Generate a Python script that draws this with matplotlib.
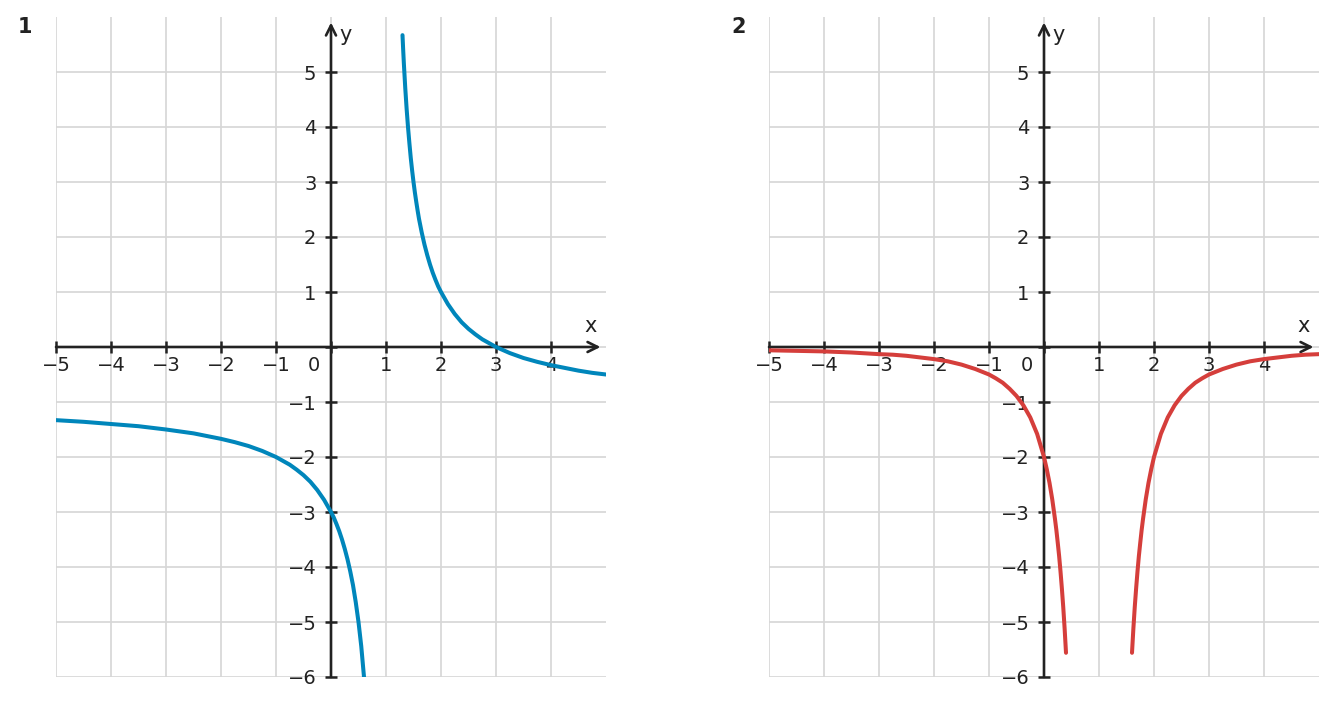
import matplotlib.pyplot as plt

# panel 1: blue curve, two branches
p1_left_x = [-5, -4.5, -4, -3.5, -3, -2.5, -2.25, -2, -1.75, -1.5, -1.25, -1, -0.875, -0.75, -0.625, -0.5, -0.375,
             -0.25, -0.125, 0, 0.05, 0.1, 0.15, 0.2, 0.25, 0.3, 0.35, 0.4, 0.45, 0.5, 0.55, 0.6]
p1_left_y = [-1.33, -1.36, -1.4, -1.44, -1.5, -1.57, -1.62, -1.67, -1.73, -1.8, -1.89, -2.0, -2.07, -2.14, -2.23,
             -2.33, -2.45, -2.6, -2.78, -3.0, -3.1, -3.22, -3.35, -3.5, -3.67, -3.86, -4.08, -4.33, -4.64, -5.0,
             -5.44, -6.0]
p1_right_x = [1.3, 1.3125, 1.325, 1.35, 1.375, 1.4, 1.425, 1.45, 1.475, 1.5, 1.525, 1.55, 1.575, 1.6, 1.65, 1.7,
              1.75, 1.8, 1.85, 1.9, 1.95, 2, 2.125, 2.25, 2.375, 2.5, 2.625, 2.75, 2.875, 3, 3.25, 3.5, 3.75, 4,
              4.25, 4.5, 4.75, 5]
p1_right_y = [5.67, 5.4, 5.15, 4.71, 4.33, 4.0, 3.71, 3.44, 3.21, 3.0, 2.81, 2.64, 2.48, 2.33, 2.08, 1.86, 1.67,
              1.5, 1.35, 1.22, 1.1, 1.0, 0.78, 0.6, 0.45, 0.33, 0.23, 0.14, 0.07, 0.0, -0.11, -0.2, -0.27, -0.33,
              -0.38, -0.43, -0.47, -0.5]

# panel 2: red curve, two branches
p2_left_x = [-5, -4.5, -4, -3.5, -3, -2.75, -2.5, -2.25, -2, -1.75, -1.5, -1.25, -1, -0.875, -0.75, -0.625, -0.5,
             -0.375, -0.25, -0.125, 0, 0.05, 0.1, 0.15, 0.2, 0.225, 0.25, 0.275, 0.3, 0.325, 0.35, 0.375, 0.4]
p2_left_y = [-0.06, -0.07, -0.08, -0.1, -0.13, -0.14, -0.16, -0.19, -0.22, -0.26, -0.32, -0.4, -0.5, -0.57, -0.65,
             -0.76, -0.89, -1.06, -1.28, -1.58, -2.0, -2.22, -2.47, -2.77, -3.13, -3.33, -3.56, -3.8, -4.08,
             -4.39, -4.73, -5.12, -5.56]
p2_right_x = [1.6, 1.625, 1.65, 1.675, 1.7, 1.725, 1.75, 1.775, 1.8, 1.85, 1.9, 1.95, 2, 2.125, 2.25, 2.375, 2.5,
              2.625, 2.75, 2.875, 3, 3.25, 3.5, 3.75, 4, 4.25, 4.5, 4.75, 5]
p2_right_y = [-5.56, -5.12, -4.73, -4.39, -4.08, -3.8, -3.56, -3.33, -3.13, -2.77, -2.47, -2.22, -2.0, -1.58,
              -1.28, -1.06, -0.89, -0.76, -0.65, -0.57, -0.5, -0.4, -0.32, -0.26, -0.22, -0.19, -0.16, -0.14, -0.13]

x_ticks = list(range(-5, 5))
y_ticks = list(range(-6, 6))

INK = '#222222'
GRID = '#d6d6d6'


def draw_panel(ax, branches, color, number, fig_x):
    ax.set_xlim(-5, 5)
    ax.set_ylim(-6, 6)
    ax.set_xticks(x_ticks)
    ax.set_yticks(y_ticks)
    ax.set_xticklabels(['\u2212%d' % -t if t < 0 else ('' if t == 0 else str(t)) for t in x_ticks])
    ax.set_yticklabels(['\u2212%d' % -t if t < 0 else ('' if t == 0 else str(t)) for t in y_ticks])
    ax.grid(True, color=GRID, lw=1.2)
    ax.set_axisbelow(True)
    for s in ['top', 'right']:
        ax.spines[s].set_visible(False)
    ax.spines['left'].set_position(('data', 0))
    ax.spines['bottom'].set_position(('data', 0))
    ax.spines['left'].set_color('none')
    ax.spines['bottom'].set_color('none')
    ax.tick_params(direction='inout', length=9, width=1.8, color=INK, labelcolor=INK, labelsize=14)
    ax.tick_params(axis='x', pad=2)
    ax.tick_params(axis='y', pad=6)

    # axes with arrowheads
    ax.annotate('', xy=(4.9, 0), xytext=(-5, 0),
                arrowprops=dict(arrowstyle='->', lw=1.9, color=INK, mutation_scale=18, shrinkA=0, shrinkB=0))
    ax.annotate('', xy=(0, 5.9), xytext=(0, -6),
                arrowprops=dict(arrowstyle='->', lw=1.9, color=INK, mutation_scale=18, shrinkA=0, shrinkB=0))
    ax.text(4.72, 0.38, 'x', fontsize=15, color=INK, ha='center', va='center')
    ax.text(0.27, 5.67, 'y', fontsize=15, color=INK, ha='center', va='center')
    ax.text(-0.32, -0.34, '0', fontsize=14, color=INK, ha='center', va='center')

    for bx, by in branches:
        ax.plot(bx, by, color=color, lw=2.9, solid_capstyle='round', solid_joinstyle='round', zorder=3)

    ax.figure.text(fig_x, 1 - 27 / 705, number, fontsize=15, fontweight='bold', color=INK, ha='center', va='center')


fig = plt.figure(figsize=(13.37, 7.05), dpi=100)
ax1 = fig.add_axes([56 / 1337, 28 / 705, 550 / 1337, 660 / 705])
ax2 = fig.add_axes([769 / 1337, 28 / 705, 550 / 1337, 660 / 705])
for a in (ax1, ax2):
    a.patch.set_visible(False)

draw_panel(ax1, [(p1_left_x, p1_left_y), (p1_right_x, p1_right_y)], '#0086bb', '1', 25 / 1337)
draw_panel(ax2, [(p2_left_x, p2_left_y), (p2_right_x, p2_right_y)], '#d53e3b', '2', 739 / 1337)

fig.savefig('out.png', dpi=100)
